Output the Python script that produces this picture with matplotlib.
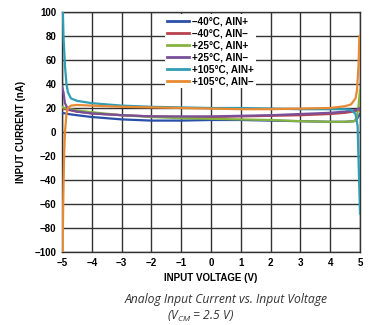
import matplotlib
matplotlib.use("Agg")
import matplotlib.pyplot as plt

plt.rcParams['mathtext.fontset'] = 'custom'
plt.rcParams['mathtext.it'] = 'Open Sans:italic'
plt.rcParams['mathtext.rm'] = 'Open Sans:italic'

labels = ["\u201340\u00b0C, AIN+", "\u201340\u00b0C, AIN\u2013", "+25\u00b0C, AIN+",
          "+25\u00b0C, AIN\u2013", "+105\u00b0C, AIN+", "+105\u00b0C, AIN\u2013"]
colors = ["#2a4fa8", "#b8434f", "#86b33e", "#7a4f9a", "#2f9db3", "#e88a33"]

v_m40p = [-5.0, -4.8, -4.5, -4.0, -3.5, -3.0, -2.5, -2.0, -1.0, 0.0, 1.0, 2.0, 3.0, 4.0, 4.5, 4.8, 4.9, 5.0]
i_m40p = [16, 15, 14, 12.5, 11.5, 10.5, 10, 9.5, 9.5, 10, 10, 9.5, 9, 8.5, 8.5, 9, 11, 15]

v_m40n = [-5.0, -4.9, -4.5, -4.0, -3.0, -2.0, -1.0, 0.0, 1.0, 2.0, 3.0, 4.0, 4.5, 4.9, 5.0]
i_m40n = [20, 19, 17, 15.5, 14, 13, 12.5, 12.5, 13, 13.5, 14, 15, 16, 17.5, 18]

v_25p = [-5.0, -4.9, -4.5, -4.0, -3.0, -2.0, -1.0, 0.0, 1.0, 2.0, 3.0, 4.0, 4.5, 4.8, 4.9, 4.95, 5.0]
i_25p = [21, 20, 18, 16.5, 14, 12.5, 11.5, 11, 10.5, 10, 9, 8.5, 8.5, 9, 12, 22, 35]

v_25n = [-5.0, -4.95, -4.9, -4.8, -4.5, -4.0, -3.0, -2.0, -1.0, 0.0, 1.0, 2.0, 3.0, 4.0, 4.5, 4.9, 5.0]
i_25n = [38, 33, 24, 19, 17, 15.5, 14, 13, 13, 13, 13.5, 14, 15, 16, 17, 18.5, 20]

v_105p = [-4.97, -4.95, -4.9, -4.85, -4.8, -4.7, -4.5, -4.0, -3.0, -2.0, -1.0, 0.0, 1.0, 2.0, 3.0, 4.0, 4.5, 4.7, 4.85, 4.92, 5.0]
i_105p = [100, 80, 55, 40, 33, 28, 26, 24, 22, 21, 20.5, 20, 20, 19.5, 19, 19, 19, 18.5, 15, 5, -68]

v_105n = [-4.98, -4.96, -4.93, -4.9, -4.85, -4.8, -4.7, -4.5, -4.0, -3.0, -2.0, -1.0, 0.0, 1.0, 2.0, 3.0, 4.0, 4.5, 4.7, 4.85, 4.9, 4.95, 4.98]
i_105n = [-100, -60, -20, 0, 15, 20, 22, 22.5, 22, 21, 20.5, 20, 19.5, 19, 19, 19.5, 20, 21.5, 23, 28, 35, 55, 80]

series = [(v_m40p, i_m40p), (v_m40n, i_m40n), (v_25p, i_25p),
          (v_25n, i_25n), (v_105p, i_105p), (v_105n, i_105n)]

xticks = [-5, -4, -3, -2, -1, 0, 1, 2, 3, 4, 5]
yticks = [-100, -80, -60, -40, -20, 0, 20, 40, 60, 80, 100]

fig = plt.figure(figsize=(3.70, 3.25), dpi=100)
ax = fig.add_axes([62/370, 1 - 252/325, 298/370, 240/325])

for (v, i), c, lab in zip(series, colors, labels):
    ax.plot(v, i, color=c, lw=1.6, label=lab, zorder=3)

ax.set_xlim(-5, 5)
ax.set_ylim(-100, 100)
ax.set_xticks(xticks)
ax.set_yticks(yticks)
ax.set_xticklabels([str(t).replace('-', '\u2212') for t in xticks])
ax.set_yticklabels([str(t).replace('-', '\u2212') for t in yticks])
ax.grid(True, color='#333333', lw=1.0, zorder=1)
ax.tick_params(length=0, pad=4, labelsize=7)
for lbl in ax.get_xticklabels() + ax.get_yticklabels():
    lbl.set_fontweight('bold')
    lbl.set_fontfamily('Liberation Sans')
for s in ax.spines.values():
    s.set_color('#333333')
    s.set_linewidth(1.0)

ax.set_xlabel("INPUT VOLTAGE (V)", fontsize=7, fontweight='bold', family='Liberation Sans', labelpad=4)
ax.set_ylabel("INPUT CURRENT (nA)", fontsize=7, fontweight='bold', family='Liberation Sans', labelpad=6)

leg = ax.legend(loc='upper left', bbox_to_anchor=(0.33, 1.012), frameon=True, fancybox=False,
                edgecolor='none', facecolor='white', framealpha=1,
                handlelength=2.2, handletextpad=0.3, labelspacing=0.2, borderpad=0.2,
                prop={'family': 'Liberation Sans', 'weight': 'bold', 'size': 7.2})
for h in leg.get_lines():
    h.set_linewidth(2.0)
leg.set_zorder(5)

fig.text(226/370, 1 - 300/325, "Analog Input Current vs. Input Voltage", ha='center', va='center',
         fontsize=8.7, style='italic', family='Open Sans', color='#333333')
fig.text(200/370, 1 - 316/325, r"($V_{CM}$ = 2.5 V)", ha='center', va='center',
         fontsize=8.7, style='italic', family='Open Sans', color='#333333')

fig.savefig("out.png", dpi=100)
